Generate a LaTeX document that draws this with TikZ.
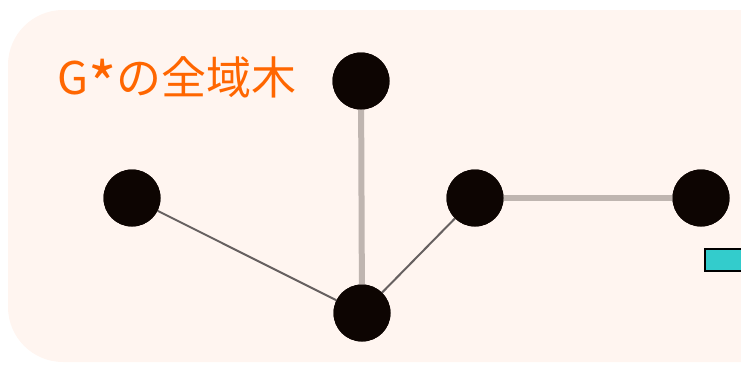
\documentclass[tikz,border=0pt]{standalone}
\usepackage{fontspec}
\usepackage{graphicx}
\newfontfamily\cjk{Noto Sans CJK JP}
\definecolor{bgpeach}{HTML}{FFF5F0}
\definecolor{edgelight}{HTML}{BFB5B0}
\definecolor{edgedark}{HTML}{666060}
\definecolor{nodeblack}{HTML}{0D0502}
\definecolor{textorange}{HTML}{FF6600}
\definecolor{tealbox}{HTML}{33CCCC}
\begin{document}
\begin{tikzpicture}[x=1pt,y=-1pt,
  vert/.style={circle,fill=nodeblack,inner sep=0pt,minimum size=57pt},
  thickedge/.style={draw=edgelight,line width=6pt},
  thinedge/.style={draw=edgedark,line width=2pt}]
\useasboundingbox (0,0) rectangle (741,368);
\fill[bgpeach,rounded corners=55pt] (8,10) rectangle (800,362);
\node[text=textorange,font=\cjk\fontsize{45}{50}\selectfont,inner sep=0pt] (title) at (177,82) {G\raisebox{-0.28em}{\scalebox{1.35}{*}}の全域木};
\node[vert] (top) at (361,81) {};
\node[vert] (left) at (132,198) {};
\node[vert] (mid) at (475,198) {};
\node[vert] (right) at (701,198) {};
\node[vert] (bot) at (362,313) {};
\draw[thickedge] (top) -- (bot);
\draw[thickedge] (mid) -- (right);
\draw[thinedge] (left) -- (bot);
\draw[thinedge] (mid) -- (bot);
\node[vert] at (top) {};
\node[vert] at (left) {};
\node[vert] at (mid) {};
\node[vert] at (right) {};
\node[vert] at (bot) {};
\node[draw=black,fill=tealbox,line width=1.5pt,minimum width=45pt,minimum height=22pt,inner sep=0pt,anchor=north west] (box) at (704,248) {};
\end{tikzpicture}
\end{document}
